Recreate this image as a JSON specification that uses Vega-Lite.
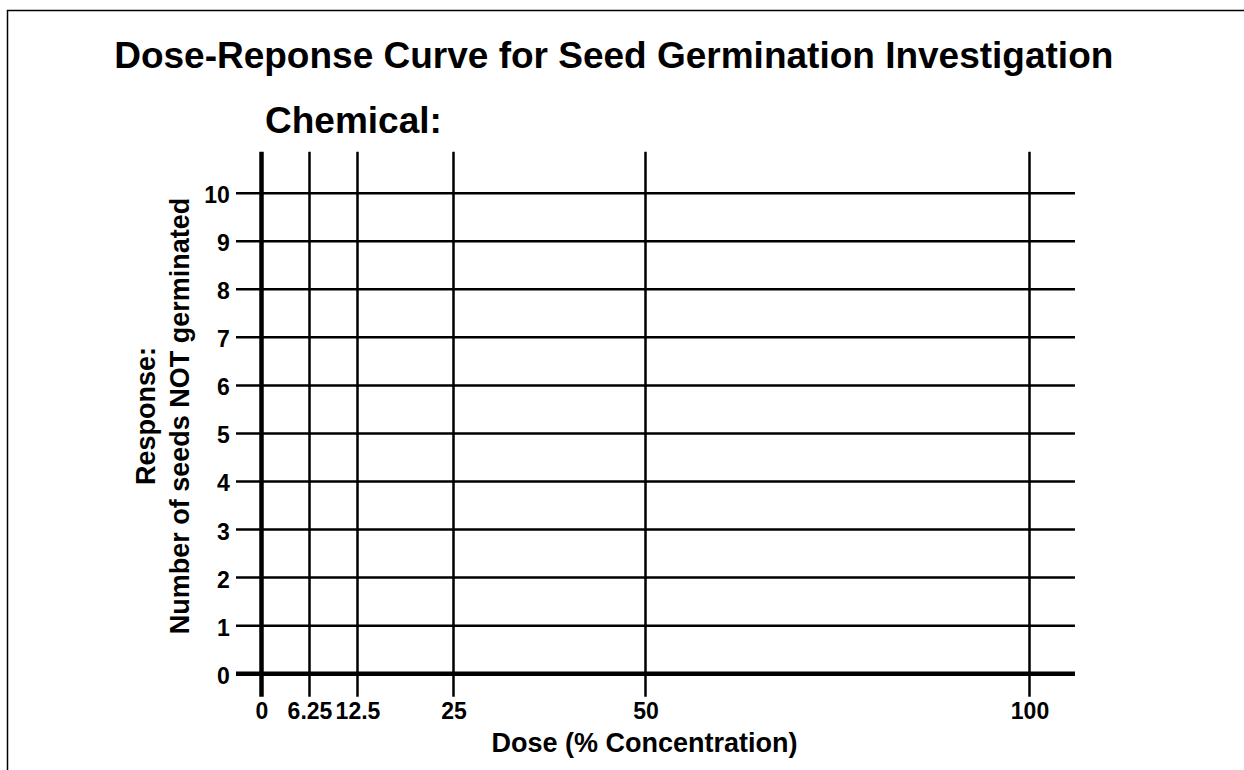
{
  "$schema": "https://vega.github.io/schema/vega-lite/v6.json",
  "autosize": "none",
  "padding": {"left": 7.5, "top": 10.5, "right": 0, "bottom": 0},
  "width": 1236.5,
  "height": 759.5,
  "background": "white",
  "title": {
    "text": "Dose-Reponse Curve for Seed Germination Investigation",
    "anchor": "middle",
    "frame": "group",
    "font": "Liberation Sans",
    "fontSize": 37,
    "fontWeight": "bold",
    "color": "black",
    "baseline": "alphabetic",
    "offset": -94.5,
    "dx": -12
  },
  "config": {
    "view": {"stroke": "black", "strokeWidth": 1.5, "strokeDash": [1236.5, 1996, 759.5]},
    "axis": {
      "labelFont": "Liberation Sans",
      "labelFontWeight": "bold",
      "labelColor": "black",
      "titleFont": "Liberation Sans",
      "titleFontWeight": "bold",
      "titleColor": "black",
      "domain": false,
      "ticks": false,
      "tickSize": 0,
      "grid": false
    }
  },
  "datasets": {
    "doses": [{"dose": 0}, {"dose": 6.25}, {"dose": 12.5}, {"dose": 25}, {"dose": 50}, {"dose": 100}],
    "counts": [{"count": 0}, {"count": 1}, {"count": 2}, {"count": 3}, {"count": 4}, {"count": 5}, {"count": 6}, {"count": 7}, {"count": 8}, {"count": 9}, {"count": 10}],
    "labels": [{"label": "Chemical:"}]
  },
  "layer": [
    {
      "data": {"name": "counts"},
      "mark": {"type": "rule", "color": "black"},
      "encoding": {
        "y": {
          "field": "count",
          "type": "quantitative",
          "scale": {"domain": [-2.004, 13.802], "nice": false, "zero": false},
          "axis": {
            "values": [0, 1, 2, 3, 4, 5, 6, 7, 8, 9, 10],
            "offset": -221.8,
            "labelPadding": 0,
            "labelFontSize": 23,
            "labelBaseline": "alphabetic",
            "labelOffset": 9.5,
            "title": ["Response:", "Number of seeds NOT germinated"],
            "titleFontSize": 27,
            "titleAngle": -90,
            "titleAlign": "center",
            "titleBaseline": "alphabetic",
            "titleLineHeight": 34,
            "titleX": -75.3,
            "titleY": 405
          }
        },
        "x": {"datum": -3.32, "type": "quantitative", "scale": {"domain": [-33.073, 127.93], "nice": false, "zero": false}},
        "x2": {"datum": 105.92},
        "strokeWidth": {"condition": {"test": "datum.count === 0", "value": 4.5}, "value": 2.5}
      }
    },
    {
      "data": {"name": "doses"},
      "mark": {"type": "rule", "color": "black"},
      "encoding": {
        "x": {
          "field": "dose",
          "type": "quantitative",
          "scale": {"domain": [-33.073, 127.93], "nice": false, "zero": false},
          "axis": {
            "values": [0, 6.25, 12.5, 25, 50, 100],
            "format": "~g",
            "offset": -52,
            "labelPadding": 0,
            "labelFontSize": 23,
            "labelBaseline": "alphabetic",
            "labelAlign": "center",
            "title": "Dose (% Concentration)",
            "titleFontSize": 27,
            "titleAlign": "center",
            "titleBaseline": "alphabetic",
            "titleX": 636.5,
            "titleY": 33.5
          }
        },
        "y": {"datum": -0.479, "type": "quantitative", "scale": {"domain": [-2.004, 13.802], "nice": false, "zero": false}},
        "y2": {"datum": 10.86},
        "strokeWidth": {"condition": {"test": "datum.dose === 0", "value": 4.5}, "value": 2.5}
      }
    },
    {
      "data": {"name": "labels"},
      "mark": {"type": "text", "font": "Liberation Sans", "fontSize": 37, "fontWeight": "bold", "color": "black", "align": "left", "baseline": "alphabetic"},
      "encoding": {
        "text": {"field": "label", "type": "nominal"},
        "x": {"datum": 0.456, "type": "quantitative"},
        "y": {"datum": 11.259, "type": "quantitative"}
      }
    }
  ]
}
